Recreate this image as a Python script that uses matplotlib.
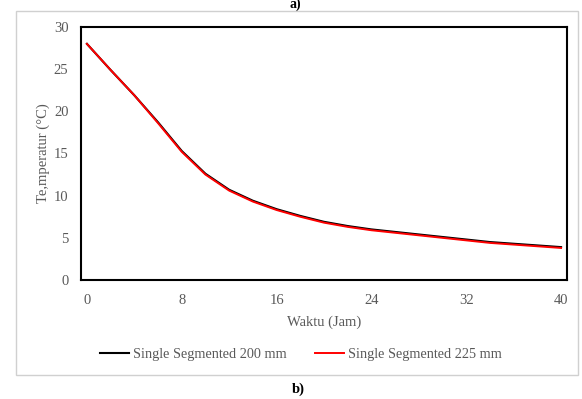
import matplotlib
matplotlib.use("Agg")
import matplotlib.pyplot as plt
from matplotlib.patches import Rectangle

plt.rcParams["font.family"] = ["Liberation Serif", "DejaVu Serif"]

hours = [0, 2, 4, 6, 8, 10, 12, 14, 16, 18, 20, 22, 24, 26, 28, 30, 32, 34, 36, 38, 40]
temp_200 = [28.0, 24.9, 21.9, 18.7, 15.3, 12.6, 10.7, 9.4, 8.4, 7.6, 6.9, 6.4, 6.0, 5.7, 5.4, 5.1, 4.8, 4.5, 4.3, 4.1, 3.9]
temp_225 = [28.0, 24.9, 21.9, 18.6, 15.2, 12.5, 10.6, 9.3, 8.3, 7.5, 6.8, 6.3, 5.9, 5.6, 5.3, 5.0, 4.7, 4.4, 4.2, 4.0, 3.8]
labels = ["Single Segmented 200 mm", "Single Segmented 225 mm"]
xticks = [0, 8, 16, 24, 32, 40]

fig = plt.figure(figsize=(5.82, 3.99), dpi=100)
W, H = 582, 399
# light outer frame around the chart
fig.add_artist(Rectangle((16 / W, 1 - 375 / H), 562 / W, 364 / H, transform=fig.transFigure,
                         fill=False, edgecolor="#d0d0d0", lw=1.0))
ax = fig.add_axes([81 / W, 1 - 280 / H, 486 / W, 253 / H])

ax.plot(hours, temp_200, color="black", lw=1.5, label=labels[0])
ax.plot(hours, temp_225, color="#ff0000", lw=1.4, label=labels[1])

ax.set_xlim(-0.5, 40.5); ax.set_ylim(0, 30)
ax.set_xticks(xticks); ax.set_yticks(range(0, 31, 5))
ax.tick_params(length=0, labelsize=10.5, labelcolor="#595959")
ax.tick_params(axis="x", pad=10); ax.tick_params(axis="y", pad=9)
for s in ax.spines.values():
    s.set_linewidth(1.5); s.set_color("black")
ax.set_xlabel("Waktu (Jam)", fontsize=10.5, color="#595959", labelpad=6)
ax.set_ylabel("Te,mperatur (°C)", fontsize=10.5, color="#595959", labelpad=3)

ax.legend(loc="center", bbox_to_anchor=((301 - 81) / 486, -(354 - 280) / 253), ncol=2, frameon=False,
          fontsize=10.3, labelcolor="#595959", handlelength=2.0, handletextpad=0.3, columnspacing=2.0)

fig.text(295 / W, 1 - 4 / H, "a)", ha="center", va="center", fontsize=10, fontweight="bold")
fig.text(298 / W, 1 - 389 / H, "b)", ha="center", va="center", fontsize=10.5, fontweight="bold")

fig.savefig("out.png", dpi=100)
